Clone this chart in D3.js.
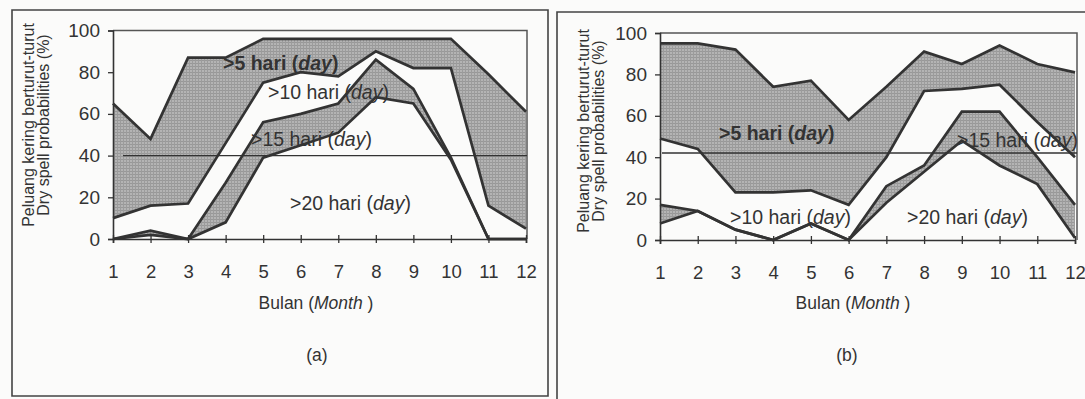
<!DOCTYPE html>
<html>
<head>
<meta charset="utf-8">
<script src="https://cdn.jsdelivr.net/npm/d3@7"></script>
<style>
  html, body { margin: 0; padding: 0; background: #fbfbfa; }
  svg { display: block; }
  text { font-family: "Liberation Sans", Arial, sans-serif; fill: #333; }
</style>
</head>
<body>
<svg id="chart" width="1085" height="399"></svg>
<script>
// ---------- DATA ----------
const months = [1, 2, 3, 4, 5, 6, 7, 8, 9, 10, 11, 12];
const yTicks = [0, 20, 40, 60, 80, 100];

// Panel (a)
const a_gt5  = [65, 48, 87, 87, 96, 96, 96, 96, 96, 96, 79, 61];
const a_gt10 = [10, 16, 17, 46, 75, 80, 78, 90, 82, 82, 16, 5];
const a_gt15 = [0, 4, 0, 27, 56, 60, 65, 86, 72, 39, 0, 0];
const a_gt20 = [0, 2, 0, 8, 39, 45, 51, 68, 65, 38, 0, 0];
const a_threshold = 40;

// Panel (b)
const b_gt5  = [95, 95, 92, 74, 77, 58, 74, 91, 85, 94, 85, 81];
const b_gt10 = [49, 44, 23, 23, 24, 17, 40, 72, 73, 75, 57, 40];
const b_gt15 = [17, 14, 5, 0, 8, 0, 26, 36, 62, 62, 40, 17];
const b_gt20 = [8, 14, 5, 0, 8, 0, 18, 33, 48, 36, 27, 1];
const b_threshold = 42;

const seriesLabels = [">5 hari ", ">10 hari ", ">15 hari ", ">20 hari "];
const yTitle1 = "Peluang kering berturut-turut";
const yTitle2 = "Dry spell probabilities (%)";
const xTitle = "Bulan (";
const xTitleItalic = "Month";
const panelTags = ["(a)", "(b)"];

// ---------- DRAWING ----------
const svg = d3.select("#chart");
const defs = svg.append("defs");
const pat = defs.append("pattern").attr("id", "hatch")
  .attr("width", 3).attr("height", 3).attr("patternUnits", "userSpaceOnUse");
pat.append("rect").attr("width", 3).attr("height", 3).attr("fill", "#b4b4b4");
pat.append("rect").attr("width", 3).attr("height", 1).attr("fill", "#989898");
pat.append("rect").attr("width", 1).attr("height", 3).attr("fill", "#9c9c9c");

const ink = "#333";

const panels = [
  { frame: [12, 10, 548, 396], bottomLine: true,
    x0: 113, x1: 526, yTop: 30.5, yBot: 239, boxRight: 527,
    s: [a_gt5, a_gt10, a_gt15, a_gt20], thr: a_threshold, thrStart: 10,
    ytX: 34, ytY: 125, xTitleX: 316, tagX: 317, tag: panelTags[0],
    labels: [[223, 63, true], [268, 92, false], [251, 139, false], [290, 203, false]] },
  { frame: [557, 12, 1100, 410], bottomLine: false,
    x0: 660, x1: 1075, yTop: 33, yBot: 240, boxRight: 1077,
    s: [b_gt5, b_gt10, b_gt15, b_gt20], thr: b_threshold, thrStart: 2,
    ytX: 589, ytY: 131, xTitleX: 853, tagX: 847, tag: panelTags[1],
    labels: [[719, 133, true], [730, 217, false], [957, 140, false], [907, 217, false]] }
];

panels.forEach(p => {
  const g = svg.append("g");
  // outer frame
  const [fx0, fy0, fx1, fy1] = p.frame;
  g.append("path")
    .attr("d", p.bottomLine
      ? `M${fx0},${fy0}H${fx1}V${fy1}H${fx0}Z`
      : `M${fx0},${fy1}V${fy0}H${fx1}`)
    .attr("fill", "none").attr("stroke", "#444").attr("stroke-width", 1.6);

  const x = d3.scaleLinear().domain([1, 12]).range([p.x0, p.x1]);
  const y = d3.scaleLinear().domain([0, 100]).range([p.yBot, p.yTop]);

  const rows = months.map((m, i) => ({ m, v5: p.s[0][i], v10: p.s[1][i], v15: p.s[2][i], v20: p.s[3][i] }));

  // gray bands
  const band = (hi, lo) => d3.area().x(d => x(d.m)).y0(d => y(d[lo])).y1(d => y(d[hi]));
  g.append("path").datum(rows).attr("d", band("v5", "v10")).attr("fill", "url(#hatch)");
  g.append("path").datum(rows).attr("d", band("v15", "v20")).attr("fill", "url(#hatch)");

  // plot box (top and right)
  g.append("path")
    .attr("d", `M${p.x0},${y(100)}H${p.boxRight}V${y(0)}`)
    .attr("fill", "none").attr("stroke", "#555").attr("stroke-width", 1.5);

  // threshold line
  g.append("line")
    .attr("x1", x(1) + p.thrStart).attr("x2", p.boxRight)
    .attr("y1", y(p.thr)).attr("y2", y(p.thr))
    .attr("stroke", ink).attr("stroke-width", 1.4);

  // series lines
  ["v5", "v10", "v15", "v20"].forEach(k => {
    g.append("path").datum(rows)
      .attr("d", d3.line().x(d => x(d.m)).y(d => y(d[k])))
      .attr("fill", "none").attr("stroke", ink).attr("stroke-width", 2.7)
      .attr("stroke-linejoin", "miter");
  });

  // y axis
  const yAxis = d3.axisLeft(y).tickValues(yTicks).tickSize(5).tickPadding(8);
  const ya = g.append("g").attr("transform", `translate(${p.x0},0)`).call(yAxis);
  ya.select(".domain").attr("stroke", ink).attr("stroke-width", 1.6);
  ya.selectAll(".tick line").attr("stroke", ink).attr("stroke-width", 1.3);
  ya.selectAll(".tick text").style("font-size", "19px")
    .style("font-family", '"Liberation Sans", Arial, sans-serif').attr("fill", ink);

  // x axis
  const xAxis = d3.axisBottom(x).tickValues(months).tickSize(4).tickPadding(22);
  const xa = g.append("g").attr("transform", `translate(0,${p.yBot})`).call(xAxis);
  xa.select(".domain").attr("stroke", ink).attr("stroke-width", 1.6);
  xa.selectAll(".tick line").attr("stroke", ink).attr("stroke-width", 1.3).attr("y1", -4);
  xa.selectAll(".tick text").style("font-size", "18.5px")
    .style("font-family", '"Liberation Sans", Arial, sans-serif').attr("fill", ink);

  // y title (two lines rotated)
  g.append("text").attr("transform", `translate(${p.ytX},${p.ytY}) rotate(-90)`)
    .attr("text-anchor", "middle").style("font-size", "16px").text(yTitle1);
  g.append("text").attr("transform", `translate(${p.ytX + 14.5},${p.ytY}) rotate(-90)`)
    .attr("text-anchor", "middle").style("font-size", "16px").text(yTitle2);

  // x title
  const xt = g.append("text").attr("x", p.xTitleX).attr("y", 309)
    .attr("text-anchor", "middle").style("font-size", "17.5px");
  xt.append("tspan").text(xTitle);
  xt.append("tspan").style("font-style", "italic").text(xTitleItalic);
  xt.append("tspan").text(" )");

  // panel tag
  g.append("text").attr("x", p.tagX).attr("y", 361).attr("text-anchor", "middle")
    .style("font-size", "17.5px").text(p.tag);

  // series labels
  p.labels.forEach(([lx, ly, bold], i) => {
    const t = g.append("text").attr("x", lx).attr("y", ly).attr("dy", "0.35em")
      .style("font-size", "19.5px").style("font-weight", bold ? "bold" : "normal");
    t.append("tspan").text(seriesLabels[i] + "(");
    t.append("tspan").style("font-style", "italic").text("day");
    t.append("tspan").text(")");
  });
});
</script>
</body>
</html>
